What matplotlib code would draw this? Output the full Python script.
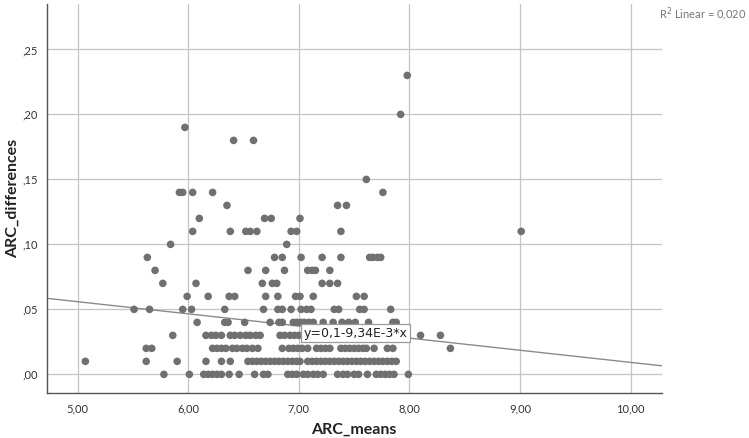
import matplotlib
matplotlib.use("Agg")
import matplotlib.pyplot as plt
import numpy as np

# ---- data (ARC_means, ARC_differences), read row by row ----
row_000 = [5.78, 6.01, 6.14, 6.18, 6.22, 6.26, 6.30, 6.37, 6.46, 6.60, 6.68, 6.72, 6.90, 6.94,
           6.98, 7.04, 7.08, 7.13, 7.17, 7.22, 7.35, 7.40, 7.44, 7.50, 7.54, 7.62, 7.70, 7.74,
           7.78, 7.82, 7.86, 7.99]
row_001 = [5.07, 5.62, 5.90, 6.16, 6.30, 6.38, 6.54, 6.58, 6.62, 6.66, 6.70, 6.74, 6.78, 6.82,
           6.86, 6.90, 6.94, 6.98, 7.01, 7.08, 7.12, 7.16, 7.20, 7.24, 7.28, 7.32, 7.36, 7.40,
           7.44, 7.48, 7.52, 7.56, 7.60, 7.64, 7.68, 7.72, 7.76, 7.80, 7.84, 7.88]
row_002 = [5.62, 5.67, 6.22, 6.26, 6.30, 6.34, 6.40, 6.44, 6.49, 6.53, 6.58, 6.63, 6.85, 6.91,
           6.95, 6.99, 7.03, 7.08, 7.16, 7.20, 7.24, 7.28, 7.38, 7.42, 7.46, 7.50, 7.54, 7.58,
           7.61, 7.68, 7.80, 7.85, 8.37]
row_003 = [5.86, 6.16, 6.21, 6.25, 6.30, 6.38, 6.42, 6.47, 6.52, 6.56, 6.61, 6.65, 6.83, 6.87,
           6.92, 6.96, 7.00, 8.10, 8.28]
row_004 = [6.08, 6.33, 6.36, 6.51, 6.74, 6.82, 6.85, 6.95, 6.98, 7.02, 7.05, 7.09, 7.13, 7.22,
           7.31, 7.39, 7.45, 7.51, 7.63, 7.85, 7.88]
row_005 = [5.51, 5.65, 5.95, 6.03, 6.33, 6.68, 6.81, 6.85, 6.93, 7.02, 7.07, 7.11, 7.32, 7.36,
           7.55, 7.59, 7.83]
row_006 = [5.99, 6.18, 6.37, 6.42, 6.70, 6.81, 6.97, 7.01, 7.13, 7.52, 7.59]
row_007 = [5.77, 6.07, 6.67, 6.76, 6.80, 7.21, 7.28, 7.35]
row_008 = [5.70, 6.54, 6.70, 6.87, 7.08, 7.12, 7.15, 7.28]
row_009 = [5.63, 6.78, 6.85, 7.02, 7.21, 7.38, 7.64, 7.67, 7.71, 7.74]
row_010 = [5.84, 6.89]
row_011 = [6.04, 6.38, 6.52, 6.56, 6.62, 6.93, 6.98, 7.38, 9.01]
row_012 = [6.10, 6.69, 6.75, 7.01]
row_013 = [6.35, 7.35, 7.43]
row_014 = [5.92, 5.95, 6.04, 6.22, 7.76]
row_015 = [7.61]
row_018 = [6.41, 6.59]
row_019 = [5.97]
row_020 = [7.92]
row_023 = [7.98]

rows = {0.00: row_000, 0.01: row_001, 0.02: row_002, 0.03: row_003, 0.04: row_004,
        0.05: row_005, 0.06: row_006, 0.07: row_007, 0.08: row_008, 0.09: row_009,
        0.10: row_010, 0.11: row_011, 0.12: row_012, 0.13: row_013, 0.14: row_014,
        0.15: row_015, 0.18: row_018, 0.19: row_019, 0.20: row_020, 0.23: row_023}

fit_intercept = 0.1026
fit_slope = -0.00934
fit_label = "y=0,1-9,34E-3*x"
r2_label = "R$^2$ Linear = 0,020"

x_ticks = [5, 6, 7, 8, 9, 10]
x_ticklabels = ["5,00", "6,00", "7,00", "8,00", "9,00", "10,00"]
y_ticks = [0.00, 0.05, 0.10, 0.15, 0.20, 0.25]
y_ticklabels = [",00", ",05", ",10", ",15", ",20", ",25"]

xs, ys = [], []
for yv, xl in rows.items():
    xs.extend(xl)
    ys.extend([yv] * len(xl))

plt.rcParams['font.family'] = ['Lato', 'DejaVu Sans']

fig = plt.figure(figsize=(7.49, 4.38), dpi=100)
ax = fig.add_axes([0.0632, 0.102, 0.8202, 0.889])
xmin, xmax = 4.726, 10.28
ymin, ymax = -0.0146, 0.285
ax.set_xlim(xmin, xmax)
ax.set_ylim(ymin, ymax)

ax.set_xticks(x_ticks)
ax.set_xticklabels(x_ticklabels)
ax.set_yticks(y_ticks)
ax.set_yticklabels(y_ticklabels)
ax.tick_params(length=0, labelsize=8, colors='#333333')
ax.tick_params(axis='x', pad=7)
ax.tick_params(axis='y', pad=7)
ax.grid(True, color='#c4c4c4', linewidth=0.9)
ax.set_axisbelow(True)
for s in ['top', 'right']:
    ax.spines[s].set_visible(False)
for s in ['left', 'bottom']:
    ax.spines[s].set_color('#555555')
    ax.spines[s].set_linewidth(1.0)

ax.scatter(xs, ys, s=30, color='#707070', edgecolors='none', zorder=3)

lx = np.array([xmin, xmax])
ax.plot(lx, fit_intercept + fit_slope * lx, color='#8a8a8a', linewidth=1.0, zorder=2)

bx = 7.04
ax.text(bx, fit_intercept + fit_slope * bx - 0.0003, fit_label, ha='left', va='top',
        fontsize=9, color='#222222', family=['DejaVu Sans'], zorder=5,
        bbox=dict(boxstyle='square,pad=0.2', facecolor='white', edgecolor='#999999', linewidth=0.9))

fig.text(0.997, 0.968, r2_label, ha='right', va='center', fontsize=8, color='#777777')

fig.text(354 / 749, 1 - 430 / 438, "ARC_means", ha='center', va='center',
         fontsize=11.5, fontweight='bold', color='#222222')
fig.text(13 / 749, 1 - 198 / 438, "ARC_differences", ha='center', va='center', rotation=90,
         fontsize=11.5, fontweight='bold', color='#222222')

fig.savefig("out.png", dpi=100)
